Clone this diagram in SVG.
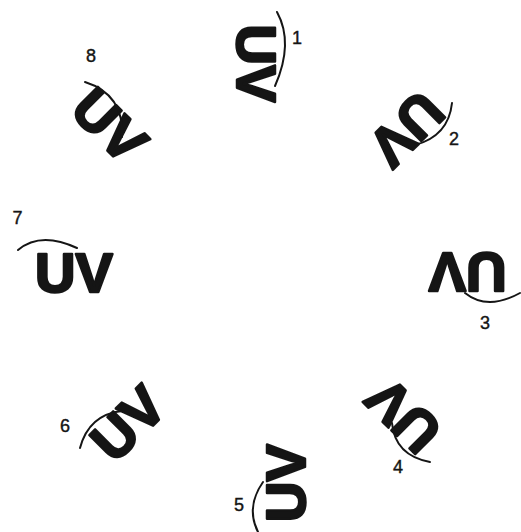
<svg xmlns="http://www.w3.org/2000/svg" width="521" height="532" viewBox="0 0 521 532">
<style>
.uv{font-family:"Liberation Sans",Arial,sans-serif;font-weight:bold;font-size:56px;fill:#151515;stroke:#151515;stroke-width:2.5;stroke-linejoin:round;text-anchor:middle}
.num{font-family:"Liberation Sans",Arial,sans-serif;font-size:18px;fill:#151515;stroke:#151515;stroke-width:0.4;text-anchor:middle}
.arc{fill:none;stroke:#151515;stroke-width:2;stroke-linecap:round}
</style>
<rect width="521" height="532" fill="#fff"/>
<g id="node1">
<text class="uv" transform="translate(256.5,63.5) rotate(90)" x="0" y="20">UV</text>
<text class="num" x="297" y="43.5">1</text>
</g>
<g id="node2">
<text class="uv" transform="translate(407,129.5) rotate(135)" x="0" y="20">UV</text>
<text class="num" x="454" y="144.5">2</text>
</g>
<g id="node3">
<text class="uv" transform="translate(467.5,273) rotate(180)" x="0" y="20">UV</text>
<text class="num" x="485" y="328.5">3</text>
</g>
<g id="node4">
<text class="uv" transform="translate(403,416) rotate(225)" x="0" y="20">UV</text>
<text class="num" x="398" y="472.5">4</text>
</g>
<g id="node5">
<text class="uv" transform="translate(285,483) rotate(270)" x="0" y="20">UV</text>
<text class="num" x="239" y="510.5">5</text>
</g>
<g id="node6">
<text class="uv" transform="translate(127.5,423) rotate(315)" x="0" y="20">UV</text>
<text class="num" x="65" y="431.5">6</text>
</g>
<g id="node7">
<text class="uv" transform="translate(74,272)" x="0" y="20">UV</text>
<text class="num" x="17.5" y="223.5">7</text>
</g>
<g id="node8">
<text class="uv" transform="translate(110,125) rotate(45)" x="0" y="20">UV</text>
<text class="num" x="91" y="61.5">8</text>
</g>
<g id="connectors">
<path class="arc" d="M277,12 Q294,43 275,86"/>
<path class="arc" d="M452,103 Q448.5,136 415,145"/>
<path class="arc" d="M520,293 Q487.5,311 465,293"/>
<path class="arc" d="M392,423 Q395,455.5 430,462"/>
<path class="arc" d="M263,482 Q245.5,507 258,532"/>
<path class="arc" d="M80,448 Q89,414.5 122,411"/>
<path class="arc" d="M18,250 Q40.5,231 77,248"/>
<path class="arc" d="M85,82 Q124.5,94.5 122,137"/>
</g>
</svg>
